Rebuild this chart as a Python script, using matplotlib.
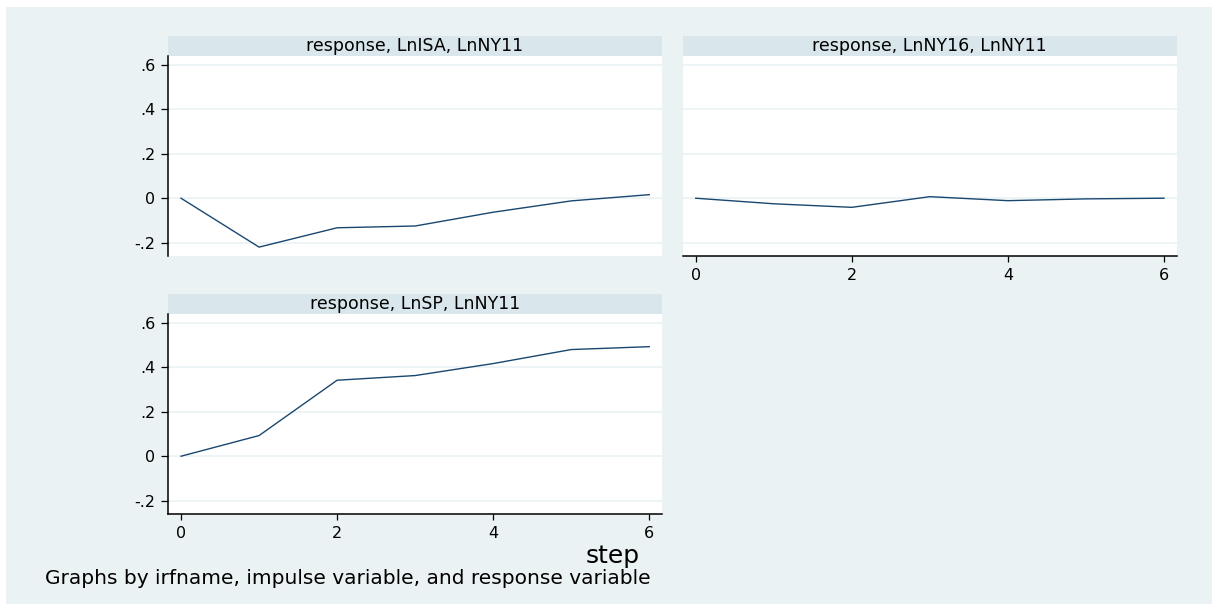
import matplotlib
matplotlib.use("Agg")
import matplotlib.pyplot as plt
from matplotlib.patches import Rectangle

# impulse response values
steps = [0, 1, 2, 3, 4, 5, 6]
resp_isa = [0.0, -0.22, -0.133, -0.125, -0.063, -0.012, 0.016]
resp_ny16 = [0.0, -0.025, -0.041, 0.007, -0.011, -0.003, 0.0]
resp_sp = [0.0, 0.093, 0.342, 0.363, 0.417, 0.48, 0.493]

titles = ["response, LnISA, LnNY11", "response, LnNY16, LnNY11", "response, LnSP, LnNY11"]
yticks = [-0.2, 0, 0.2, 0.4, 0.6]
ytick_labels = ["-.2", "0", ".2", ".4", ".6"]
xticks = [0, 2, 4, 6]

BG = "#eaf2f3"
STRIP = "#d9e6eb"
LINE = "#1a476f"

plt.rcParams["font.family"] = "DejaVu Sans"

W, H = 1212, 604
fig = plt.figure(figsize=(W / 100, H / 100), dpi=100, facecolor="white")
fig.patches.append(Rectangle((6 / W, 0), 1 - 6 / W, 1 - 7 / H, transform=fig.transFigure,
                             facecolor=BG, edgecolor="none", zorder=-10))


def panel(left_px, top_px, values, title, show_y, show_x):
    ax = fig.add_axes([left_px / W, 1 - (top_px + 200) / H, 494 / W, 200 / H])
    ax.set_facecolor("white")
    ax.plot(steps, values, color=LINE, lw=1.0)
    ax.set_xlim(-0.167, 6.163)
    ax.set_ylim(-0.26, 0.64)
    ax.set_yticks(yticks)
    ax.set_xticks(xticks)
    ax.grid(axis="y", color=BG, lw=1.2)
    ax.set_axisbelow(True)
    for s in ["top", "right"]:
        ax.spines[s].set_visible(False)
    ax.spines["left"].set_visible(show_y)
    ax.spines["bottom"].set_visible(show_x)
    for s in ["left", "bottom"]:
        ax.spines[s].set_linewidth(1.1)
    if show_y:
        ax.set_yticklabels(ytick_labels)
        ax.tick_params(axis="y", length=5, width=0.9, pad=4, labelsize=11.5)
    else:
        ax.tick_params(axis="y", length=0, labelleft=False)
    if show_x:
        ax.tick_params(axis="x", length=4, width=0.9, pad=5, labelsize=11.5)
    else:
        ax.tick_params(axis="x", length=0, labelbottom=False)
    # title strip above the plot region
    ax.add_patch(Rectangle((0, 1), 1, 0.1, transform=ax.transAxes, facecolor=STRIP,
                           edgecolor="none", clip_on=False))
    ax.text(0.5, 1.05, title, transform=ax.transAxes, ha="center", va="center",
            fontsize=12.5, color="black")
    return ax


panel(168, 56, resp_isa, titles[0], True, False)
panel(682.7, 56, resp_ny16, titles[1], False, True)
panel(168, 314, resp_sp, titles[2], True, True)

fig.text(613 / W, 1 - 556 / H, "step", ha="center", va="center", fontsize=18)
fig.text(45 / W, 1 - 578 / H, "Graphs by irfname, impulse variable, and response variable",
         ha="left", va="center", fontsize=14.5)

fig.savefig("out.png", dpi=100, facecolor=fig.get_facecolor())
